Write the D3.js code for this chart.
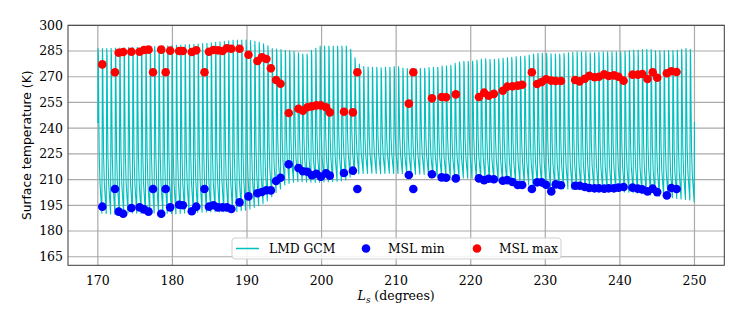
<!DOCTYPE html>
<html>
<head>
<meta charset="utf-8">
<script src="https://cdn.jsdelivr.net/npm/d3@7"></script>
<style>
  html, body { margin: 0; padding: 0; background: #fff; }
  svg { display: block; }
</style>
</head>
<body>
<svg id="chart" width="748" height="323"></svg>
<script>
// ---------------- DATA ----------------
const xTicks = [170, 180, 190, 200, 210, 220, 230, 240, 250];
const yTicks = [165, 180, 195, 210, 225, 240, 255, 270, 285, 300];

// MSL observations (Ls in degrees, temperatures in K)
const mslLs = [170.6, 172.3, 172.8, 173.4, 174.5, 175.6, 176.2, 176.8, 177.4, 178.5,
  179.1, 179.7, 180.9, 181.4, 182.6, 183.2, 184.3, 184.9, 185.5, 186.1,
  186.7, 187.3, 187.9, 189.0, 190.2, 191.4, 192.0, 192.6, 193.2, 193.9,
  194.5, 195.6, 196.9, 197.5, 198.1, 198.7, 199.3, 199.9, 200.6, 201.1,
  203.0, 204.2, 204.8, 211.7, 212.3, 214.8, 216.1, 216.7, 218.0, 221.1,
  221.8, 222.4, 223.1, 224.3, 224.9, 225.6, 226.3, 226.9, 228.2, 228.9,
  229.5, 230.1, 230.8, 231.4, 232.1, 234.0, 234.6, 235.3, 235.9, 236.6,
  237.2, 237.9, 238.5, 239.2, 239.8, 240.5, 241.7, 242.4, 243.0, 243.7,
  244.4, 245.0, 246.3, 246.9, 247.6];
const mslMax = [277.2, 272.6, 284.0, 284.4, 284.6, 284.6, 285.6, 285.8, 272.6, 285.8,
  272.6, 285.2, 285.0, 285.0, 284.4, 285.4, 272.6, 284.6, 285.6, 285.4,
  285.0, 286.6, 286.3, 286.3, 282.8, 279.2, 281.3, 280.3, 274.9, 268.1,
  265.9, 248.8, 251.3, 250.2, 252.2, 252.7, 253.3, 253.3, 252.2, 249.2,
  249.6, 249.2, 272.6, 254.3, 272.6, 257.4, 258.2, 258.0, 259.7, 258.2,
  260.7, 258.9, 260.0, 261.8, 264.2, 264.4, 264.8, 265.3, 272.6, 265.8,
  266.9, 268.5, 267.7, 267.5, 267.5, 268.1, 267.3, 268.8, 270.6, 269.7,
  270.0, 271.4, 270.4, 270.8, 270.0, 267.7, 271.2, 271.2, 271.6, 268.7,
  272.6, 269.4, 272.0, 273.2, 272.8];
const mslMin = [194.2, 204.5, 191.3, 190.1, 193.4, 193.8, 192.6, 191.3, 204.5, 190.1,
  204.5, 193.8, 195.3, 195.0, 191.5, 194.2, 204.5, 194.2, 195.0, 193.8,
  193.8, 193.8, 192.8, 196.7, 200.2, 202.0, 202.8, 203.8, 203.7, 209.2,
  211.1, 218.9, 216.8, 214.9, 214.6, 212.5, 213.4, 211.7, 213.6, 212.3,
  213.8, 215.2, 204.5, 212.7, 204.5, 213.1, 211.3, 211.1, 210.7, 210.7,
  209.7, 210.5, 210.2, 209.3, 209.7, 208.6, 206.8, 206.8, 204.5, 208.4,
  208.4, 207.0, 203.1, 207.2, 206.7, 206.4, 206.4, 205.7, 205.1, 204.9,
  204.9, 204.7, 204.9, 204.9, 205.3, 205.7, 205.3, 204.7, 204.3, 203.1,
  204.7, 202.7, 200.8, 205.1, 204.5];

// LMD GCM: one value per sol (daily maximum / daily minimum), Ls 170 -> 250
const gcmLsStart = 170, gcmLsEnd = 250;
const gcmStartT = 243.0, gcmEndT = 243.8;
const gcmMax = [286.4, 286.4, 286.5, 286.6, 286.7, 286.8, 286.9, 287.0, 287.1, 287.2,
  287.3, 287.4, 287.5, 287.6, 287.8, 287.9, 288.1, 288.2, 288.4, 288.5,
  288.6, 288.8, 288.9, 289.1, 289.3, 289.5, 289.8, 290.1, 290.4, 290.7,
  291.0, 291.3, 291.4, 291.4, 291.4, 291.1, 290.7, 290.1, 289.2, 288.0,
  286.5, 286.2, 285.9, 285.4, 285.2, 284.8, 284.0, 283.3, 283.3, 285.4,
  286.6, 287.9, 287.9, 287.9, 287.9, 287.9, 287.9, 287.9, 286.0, 281.0,
  277.4, 275.9, 275.6, 275.5, 275.5, 275.2, 275.5, 275.5, 275.9, 275.9,
  275.0, 274.8, 274.7, 274.8, 274.9, 274.9, 275.3, 275.5, 275.5, 276.3,
  276.4, 276.6, 277.8, 278.6, 279.0, 279.0, 279.0, 279.8, 280.3, 280.5,
  280.1, 280.1, 280.4, 280.7, 281.0, 281.3, 281.7, 281.7, 282.1, 282.7,
  283.3, 283.6, 283.6, 283.6, 283.4, 283.3, 283.3, 283.5, 283.9, 284.3,
  284.6, 284.6, 284.6, 284.0, 284.0, 284.2, 284.6, 284.6, 284.6, 284.6,
  284.6, 284.8, 285.2, 285.5, 285.6, 285.8, 286.0, 285.8, 285.2, 285.2,
  285.2, 285.2, 285.3, 285.5, 286.0, 286.6, 286.0];
const gcmMin = [190.4, 190.2, 190.0, 189.8, 190.0, 190.3, 190.5, 190.6, 190.4, 190.2,
  190.0, 190.2, 190.5, 190.7, 190.6, 190.4, 190.2, 190.0, 190.3, 190.6,
  190.8, 190.9, 191.0, 191.0, 191.1, 191.2, 191.3, 191.3, 191.3, 191.3,
  191.3, 191.4, 191.8, 192.2, 192.8, 193.8, 194.8, 196.0, 197.5, 200.0,
  202.5, 204.5, 206.8, 207.8, 208.5, 208.8, 208.8, 208.6, 208.5, 208.4,
  208.5, 208.7, 208.8, 208.9, 209.0, 209.2, 209.8, 211.5, 212.8, 213.4,
  213.6, 213.6, 213.7, 213.6, 213.5, 213.6, 213.7, 213.6, 213.6, 213.4,
  213.2, 213.1, 213.1, 213.1, 213.0, 212.6, 212.2, 211.9, 211.7, 211.5,
  211.3, 211.2, 211.0, 210.9, 210.8, 210.7, 210.6, 210.4, 210.0, 209.5,
  209.2, 209.0, 208.5, 208.0, 207.8, 207.6, 207.4, 207.2, 206.9, 206.6,
  206.4, 206.1, 205.8, 205.5, 205.1, 204.9, 204.7, 204.5, 204.3, 204.2,
  204.1, 204.0, 203.9, 203.8, 203.7, 203.6, 203.5, 203.3, 203.1, 203.0,
  202.8, 202.6, 202.4, 202.1, 201.8, 201.5, 201.1, 200.7, 200.3, 200.0,
  199.7, 199.4, 199.0, 198.7, 198.4, 198.1, 197.1];

// ---------------- CHART ----------------
const W = 748, H = 323;
const L = 68, R = 724.3, T = 25.3, B = 265.3;
const svg = d3.select("#chart");
const serif = "'DejaVu Serif', serif";
const sans = "'DejaVu Sans', sans-serif";

const x = d3.scaleLinear().domain([166, 254]).range([L, R]);
const y = d3.scaleLinear().domain([160, 300]).range([B, T]);

// grid
const grid = svg.append("g");
grid.selectAll("line.gx").data(xTicks).join("line")
  .attr("x1", d => x(d)).attr("x2", d => x(d)).attr("y1", T).attr("y2", B)
  .attr("stroke", "#aaaaaa").attr("stroke-width", 1.2);
grid.selectAll("line.gy").data(yTicks).join("line")
  .attr("y1", d => y(d)).attr("y2", d => y(d)).attr("x1", L).attr("x2", R)
  .attr("stroke", "#aaaaaa").attr("stroke-width", 1.2);

// GCM diurnal line built from the per-sol extremes
const nSol = gcmMax.length;
const step = (gcmLsEnd - gcmLsStart) / nSol;
const pts = [[gcmLsStart, gcmStartT]];
for (let i = 0; i < nSol; i++) {
  const s = gcmLsStart + i * step;
  const mx = gcmMax[i], mn = gcmMin[i], rg = mx - mn;
  pts.push([s + 0.05 * step, mx]);
  pts.push([s + 0.12 * step, mn + 0.96 * rg]);
  pts.push([s + 0.22 * step, mn + 0.62 * rg]);
  pts.push([s + 0.32 * step, mn + 0.35 * rg]);
  pts.push([s + 0.50 * step, mn + 0.18 * rg]);
  pts.push([s + 0.93 * step, mn]);
  if (i < nSol - 1) {
    pts.push([s + step, mn + 0.55 * (gcmMax[i + 1] - mn)]);
  } else {
    pts.push([gcmLsEnd, gcmEndT]);
  }
}
svg.append("clipPath").attr("id", "clipA").append("rect")
  .attr("x", L).attr("y", T).attr("width", R - L).attr("height", B - T);
svg.append("path")
  .attr("clip-path", "url(#clipA)")
  .attr("d", d3.line().x(d => x(d[0])).y(d => y(d[1]))(pts))
  .attr("fill", "none").attr("stroke", "#00bfbf").attr("stroke-width", 1.1)
  .attr("stroke-linejoin", "round");

// MSL points
const minData = mslLs.map((l, i) => [l, mslMin[i]]);
const maxData = mslLs.map((l, i) => [l, mslMax[i]]);
svg.append("g").selectAll("circle").data(minData).join("circle")
  .attr("cx", d => x(d[0])).attr("cy", d => y(d[1])).attr("r", 4.3)
  .attr("fill", "#0000ff");
svg.append("g").selectAll("circle").data(maxData).join("circle")
  .attr("cx", d => x(d[0])).attr("cy", d => y(d[1])).attr("r", 4.3)
  .attr("fill", "#ff0000");

// spines
svg.append("rect").attr("x", L).attr("y", T).attr("width", R - L).attr("height", B - T)
  .attr("fill", "none").attr("stroke", "#3a3a3a").attr("stroke-width", 1);

// tick labels
svg.append("g").selectAll("text").data(xTicks).join("text")
  .attr("x", d => x(d)).attr("y", 284.5)
  .attr("text-anchor", "middle").attr("font-family", serif).attr("font-size", 12.5)
  .attr("fill", "#000").text(d => d);
svg.append("g").selectAll("text").data(yTicks).join("text")
  .attr("x", 63).attr("y", d => y(d) + 4.4)
  .attr("text-anchor", "end").attr("font-family", serif).attr("font-size", 12.5)
  .attr("fill", "#000").text(d => d);

// axis labels
const xl = svg.append("text").attr("x", (L + R) / 2).attr("y", 300)
  .attr("text-anchor", "middle").attr("font-family", serif).attr("font-size", 12.5).attr("fill", "#000");
xl.append("tspan").attr("font-style", "italic").text("L");
xl.append("tspan").attr("font-style", "italic").attr("font-size", 8.8).attr("dy", 2.5).text("s");
xl.append("tspan").attr("dy", -2.5).text(" (degrees)");

svg.append("text")
  .attr("transform", `translate(30.5,${(T + B) / 2}) rotate(-90)`)
  .attr("text-anchor", "middle").attr("font-family", sans).attr("font-size", 12.3)
  .attr("fill", "#000").text("Surface temperature (K)");

// legend
const lg = svg.append("g");
lg.append("rect").attr("x", 232).attr("y", 238).attr("width", 329).attr("height", 21)
  .attr("rx", 3).attr("fill", "#fff").attr("fill-opacity", 0.85)
  .attr("stroke", "#d0d0d0").attr("stroke-width", 1);
const ly = 248.5;
lg.append("line").attr("x1", 236).attr("x2", 259).attr("y1", ly).attr("y2", ly)
  .attr("stroke", "#00bfbf").attr("stroke-width", 1.5);
lg.append("text").attr("x", 269).attr("y", ly + 4.3).attr("font-family", serif)
  .attr("font-size", 12.3).text("LMD GCM");
lg.append("circle").attr("cx", 366).attr("cy", ly).attr("r", 4.3).attr("fill", "#0000ff");
lg.append("text").attr("x", 388).attr("y", ly + 4.3).attr("font-family", serif)
  .attr("font-size", 12.3).text("MSL min");
lg.append("circle").attr("cx", 477).attr("cy", ly).attr("r", 4.3).attr("fill", "#ff0000");
lg.append("text").attr("x", 499).attr("y", ly + 4.3).attr("font-family", serif)
  .attr("font-size", 12.3).text("MSL max");
</script>
</body>
</html>
